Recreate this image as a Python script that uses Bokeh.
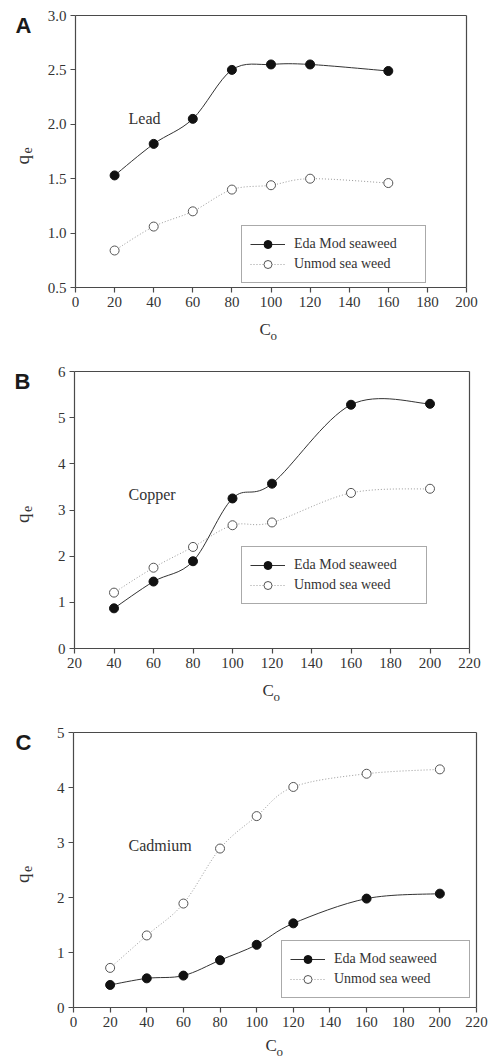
import math
from bokeh.plotting import figure
from bokeh.models import (Legend, LegendItem, Label, Range1d, ColumnDataSource,
                          LinearAxis, FixedTicker)
from bokeh.layouts import column
from bokeh.embed import file_html
from bokeh.resources import INLINE

# ---------------- data ----------------
lead_x = [20, 40, 60, 80, 100, 120, 160]
lead_mod = [1.53, 1.82, 2.05, 2.50, 2.55, 2.55, 2.49]
lead_unmod = [0.84, 1.06, 1.20, 1.40, 1.44, 1.50, 1.46]
lead_xticks = [0, 20, 40, 60, 80, 100, 120, 140, 160, 180, 200]
lead_yticks = [0.5, 1.0, 1.5, 2.0, 2.5, 3.0]
lead_ylabels = ["0.5", "1.0", "1.5", "2.0", "2.5", "3.0"]

copper_x = [40, 60, 80, 100, 120, 160, 200]
copper_mod = [0.87, 1.45, 1.89, 3.25, 3.57, 5.28, 5.30]
copper_unmod = [1.21, 1.75, 2.20, 2.67, 2.73, 3.37, 3.46]
copper_xticks = [20, 40, 60, 80, 100, 120, 140, 160, 180, 200, 220]
copper_yticks = [0, 1, 2, 3, 4, 5, 6]
copper_ylabels = ["0", "1", "2", "3", "4", "5", "6"]

cadmium_x = [20, 40, 60, 80, 100, 120, 160, 200]
cadmium_mod = [0.41, 0.53, 0.58, 0.86, 1.14, 1.53, 1.98, 2.07]
cadmium_unmod = [0.72, 1.31, 1.89, 2.89, 3.48, 4.01, 4.25, 4.33]
cadmium_xticks = [0, 20, 40, 60, 80, 100, 120, 140, 160, 180, 200, 220]
cadmium_yticks = [0, 1, 2, 3, 4, 5]
cadmium_ylabels = ["0", "1", "2", "3", "4", "5"]

series_names = ["Eda Mod seaweed", "Unmod sea weed"]
panel_letters = ["A", "B", "C"]
metal_names = ["Lead", "Copper", "Cadmium"]
y_label = ("q", "e")
x_label = ("C", "o")

SERIF = "Liberation Serif"
TXT = "#333333"
AX = "#4a4a4a"
W = 489


def spline_segments(xs, ys):
    """Cubic Bezier pieces (Catmull-Rom) through the data points."""
    n = len(xs)
    d = dict(x0=[], y0=[], x1=[], y1=[], cx0=[], cy0=[], cx1=[], cy1=[])
    for i in range(n - 1):
        a = i - 1 if i > 0 else i
        b = i + 2 if i + 2 < n else i + 1
        d["x0"].append(xs[i]); d["y0"].append(ys[i])
        d["x1"].append(xs[i + 1]); d["y1"].append(ys[i + 1])
        d["cx0"].append(xs[i] + (xs[i + 1] - xs[a]) / 6.0)
        d["cy0"].append(ys[i] + (ys[i + 1] - ys[a]) / 6.0)
        d["cx1"].append(xs[i + 1] - (xs[b] - xs[i]) / 6.0)
        d["cy1"].append(ys[i + 1] - (ys[b] - ys[i]) / 6.0)
    return ColumnDataSource(d)


def style_axis(ax, ticks):
    ax.ticker = FixedTicker(ticks=ticks)
    ax.axis_line_color = AX
    ax.axis_line_width = 1.2
    ax.major_tick_line_color = AX
    ax.major_tick_line_width = 1.2
    ax.major_tick_out = 5
    ax.major_tick_in = 0
    ax.minor_tick_out = 0
    ax.minor_tick_in = 0
    ax.major_label_text_font = SERIF
    ax.major_label_text_font_size = "15px"
    ax.major_label_text_color = TXT
    ax.major_label_standoff = 4


def make_panel(xs, mod, unmod, xlim, ylim, xticks, yticks, ylabels, height,
               frame_px, legend_px, label_w, letter, metal, texts_px):
    # frame_px: pixel box (left, right, top, bottom) of the axes inside this canvas
    fl, fr, ft, fb = frame_px
    sx = (fr - fl) / (xlim[1] - xlim[0])
    sy = (fb - ft) / (ylim[1] - ylim[0])
    xr = (xlim[0] - fl / sx, xlim[0] + (W - fl) / sx)
    yr = (ylim[0] - (height - fb) / sy, ylim[1] + ft / sy)

    def dx(px):
        return xr[0] + px / sx

    def dy(py):
        return yr[1] - py / sy

    p = figure(width=W, height=height, output_backend="svg", toolbar_location=None,
               x_range=Range1d(*xr), y_range=Range1d(*yr),
               x_axis_location=None, y_axis_location=None,
               min_border=0, min_border_left=0, min_border_right=0,
               min_border_top=0, min_border_bottom=0)
    p.grid.visible = False
    p.outline_line_color = None
    p.background_fill_color = "white"
    p.border_fill_color = "white"

    bottom = LinearAxis(fixed_location=ylim[0], bounds=xlim)
    style_axis(bottom, xticks)
    p.add_layout(bottom, "below")
    left = LinearAxis(fixed_location=xlim[0], bounds=ylim)
    style_axis(left, yticks)
    left.major_label_overrides = {t: l for t, l in zip(yticks, ylabels)}
    p.add_layout(left, "left")
    top = LinearAxis(fixed_location=ylim[1], bounds=xlim)
    style_axis(top, [])
    p.add_layout(top, "above")
    right = LinearAxis(fixed_location=xlim[1], bounds=ylim)
    style_axis(right, [])
    p.add_layout(right, "right")

    src_mod = spline_segments(xs, mod)
    src_un = spline_segments(xs, unmod)
    r_un_line = p.bezier(x0="x0", y0="y0", x1="x1", y1="y1", cx0="cx0", cy0="cy0",
                         cx1="cx1", cy1="cy1", source=src_un, line_color="#9a9a9a",
                         line_width=1, line_dash="1 2")
    r_mod_line = p.bezier(x0="x0", y0="y0", x1="x1", y1="y1", cx0="cx0", cy0="cy0",
                          cx1="cx1", cy1="cy1", source=src_mod, line_color="#333333",
                          line_width=1)
    r_un_pts = p.scatter(xs, unmod, size=9, marker="circle", fill_color="white",
                         line_color="#555555", line_width=1)
    r_mod_pts = p.scatter(xs, mod, size=9, marker="circle", fill_color="#111111",
                          line_color="#111111", line_width=1)

    legend = Legend(items=[LegendItem(label=series_names[0], renderers=[r_mod_line, r_mod_pts]),
                           LegendItem(label=series_names[1], renderers=[r_un_line, r_un_pts])],
                    location=(legend_px[0], height - legend_px[1]),
                    glyph_width=35, glyph_height=20,
                    label_standoff=9, padding=8, spacing=0, margin=0,
                    label_width=label_w, label_height=20,
                    border_line_color="#555555", border_line_width=1,
                    label_text_font=SERIF, label_text_font_size="14px",
                    label_text_color=TXT, background_fill_color="white",
                    background_fill_alpha=1.0)
    p.add_layout(legend)

    def txt(px, py, text, size, font=SERIF, angle=0.0, style="normal", color=TXT):
        p.add_layout(Label(x=dx(px), y=dy(py), text=text, angle=angle,
                           text_font=font, text_font_size=size,
                           text_font_style=style, text_color=color,
                           text_align="left", text_baseline="middle"))

    lx, ly = texts_px["letter"]
    txt(lx, ly, letter, "22px", font="Liberation Sans", style="bold", color="#1a1a1a")
    mx, my = texts_px["metal"]
    txt(mx, my, metal, "16px")
    qx, qy = texts_px["q"]
    txt(qx, qy, y_label[0], "19px", angle=math.pi / 2)
    txt(qx + 4, qy - 11, y_label[1], "14px", angle=math.pi / 2)
    cx, cy = texts_px["C"]
    txt(cx, cy, x_label[0], "17px")
    txt(cx + 11, cy + 6, x_label[1], "13px")
    return p


# Panel A: canvas rows 0..350
pA = make_panel(lead_x, lead_mod, lead_unmod, (0, 200), (0.5, 3.0),
                lead_xticks, lead_yticks, lead_ylabels, 350,
                (75, 466, 15, 287), (241, 283), 123, panel_letters[0], metal_names[0],
                dict(letter=(15, 25), metal=(128, 118), q=(22, 164), C=(259, 328.5)))

# Panel B: canvas rows 350..706
pB = make_panel(copper_x, copper_mod, copper_unmod, (20, 220), (0, 6),
                copper_xticks, copper_yticks, copper_ylabels, 356,
                (74, 469, 21, 298), (241, 254), 124, panel_letters[1], metal_names[1],
                dict(letter=(14, 31), metal=(128, 143.5), q=(22, 172.5), C=(262, 339.5)))

# Panel C: canvas rows 706..1059
pC = make_panel(cadmium_x, cadmium_mod, cadmium_unmod, (0, 220), (0, 5),
                cadmium_xticks, cadmium_yticks, cadmium_ylabels, 353,
                (73, 476, 26, 301), (281, 292), 127, panel_letters[2], metal_names[2],
                dict(letter=(15, 35.5), metal=(128, 139), q=(22, 176.5), C=(265, 339)))

layout = column(pA, pB, pC, spacing=0)
open("out.html", "w").write(file_html(layout, INLINE))
